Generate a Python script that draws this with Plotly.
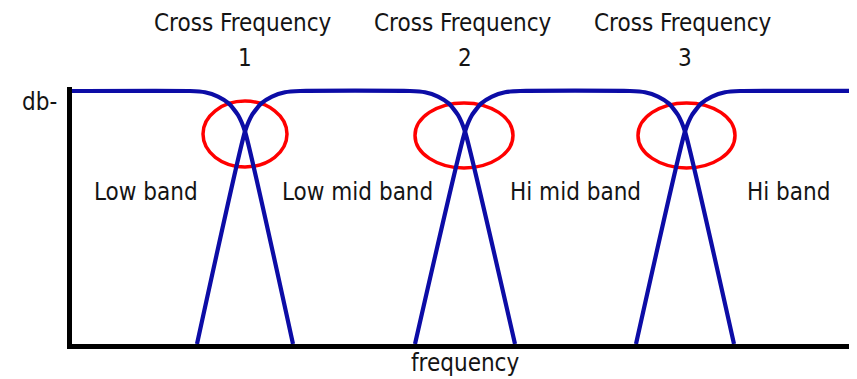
import plotly.graph_objects as go

# ---- data (schematic units: x = frequency position, y = level in % of max) ----
cross_freq = [245, 465, 685]
cross_labels = ["1", "2", "3"]
band_names = ["Low band", "Low mid band", "Hi mid band", "Hi band"]
band_label_x = [146, 357, 575, 788]

low_x = [72, 190, 205, 218, 229, 238, 245, 293]
low_y = [100, 100, 99.5, 97.8, 95, 90.5, 84, 0]

lowmid_x = [197, 245, 252, 261, 272, 285, 300, 410, 425, 438, 449, 458, 465, 515]
lowmid_y = [0, 84, 90.5, 95, 97.8, 99.5, 100, 100, 99.5, 97.8, 95, 90.5, 84, 0]

himid_x = [415, 465, 472, 481, 492, 505, 520, 630, 645, 658, 669, 678, 685, 734]
himid_y = [0, 84, 90.5, 95, 97.8, 99.5, 100, 100, 99.5, 97.8, 95, 90.5, 84, 0]

hi_x = [636, 685, 692, 701, 712, 725, 740, 857]
hi_y = [0, 84, 90.5, 95, 97.8, 99.5, 100, 100]

ellipse_x0 = [203, 415, 638]
ellipse_x1 = [287, 513, 735]
ellipse_y0 = [70.0, 69.6, 69.6]
ellipse_y1 = [96.0, 95.3, 95.3]

# ---- layout geometry (screen pixels; page body has an 8px offset) ----
OFF = 8
W, H = 857, 379
ML, MR, MT, MB = 72, 0, 87, 35
Y_MAX = 101.58

FONT = "DejaVu Sans Condensed, Liberation Sans Narrow, DejaVu Sans, sans-serif"
FS = 24
BLUE = "#0c0ca6"
TXT = "#141414"


def py(px):
    """screen pixel row -> paper y"""
    return (H - MB - px) / (H - MT - MB)


def pxx(px):
    """screen pixel column -> paper x"""
    return (px - ML) / (W - ML - MR)


fig = go.Figure()
for xs, ys, nm in [(low_x, low_y, band_names[0]), (lowmid_x, lowmid_y, band_names[1]),
                   (himid_x, himid_y, band_names[2]), (hi_x, hi_y, band_names[3])]:
    fig.add_trace(go.Scatter(x=xs, y=ys, mode="lines", name=nm,
                             line=dict(color=BLUE, width=4.2, shape="spline", smoothing=0.5),
                             hoverinfo="skip"))

shapes = []
for x0, x1, y0, y1 in zip(ellipse_x0, ellipse_x1, ellipse_y0, ellipse_y1):
    shapes.append(dict(type="circle", xref="x", yref="y", x0=x0, x1=x1, y0=y0, y1=y1,
                       line=dict(color="#ff0000", width=3.5), layer="below"))

font = dict(family=FONT, size=FS, color=TXT)
annotations = []
for cf, lab in zip(cross_freq, cross_labels):
    annotations.append(dict(x=cf - 2, y=py(23), xref="x", yref="paper", text="Cross Frequency",
                            showarrow=False, font=font, xanchor="center", yanchor="middle"))
    annotations.append(dict(x=cf, y=py(58), xref="x", yref="paper", text=lab,
                            showarrow=False, font=font, xanchor="center", yanchor="middle"))
for bx, nm in zip(band_label_x, band_names):
    annotations.append(dict(x=bx, y=py(192), xref="x", yref="paper", text=nm,
                            showarrow=False, font=font, xanchor="center", yanchor="middle"))
annotations.append(dict(x=465, y=py(363), xref="x", yref="paper", text="frequency",
                        showarrow=False, font=font, xanchor="center", yanchor="middle"))
annotations.append(dict(x=pxx(39), y=py(102), xref="paper", yref="paper", text="db-",
                        showarrow=False, font=font, xanchor="center", yanchor="middle"))

fig.update_layout(
    width=W - OFF, height=H - OFF,
    margin=dict(l=ML - OFF, r=MR, t=MT - OFF, b=MB),
    paper_bgcolor="white", plot_bgcolor="white",
    showlegend=False,
    shapes=shapes, annotations=annotations,
    xaxis=dict(range=[ML, W], showgrid=False, zeroline=False, showticklabels=False,
               ticks="", showline=True, linecolor="#000000", linewidth=4.5, fixedrange=True),
    yaxis=dict(range=[0, Y_MAX], showgrid=False, zeroline=False, showticklabels=False,
               ticks="", showline=True, linecolor="#000000", linewidth=5, fixedrange=True),
)

fig.write_html("out.html", config={"displayModeBar": False})
